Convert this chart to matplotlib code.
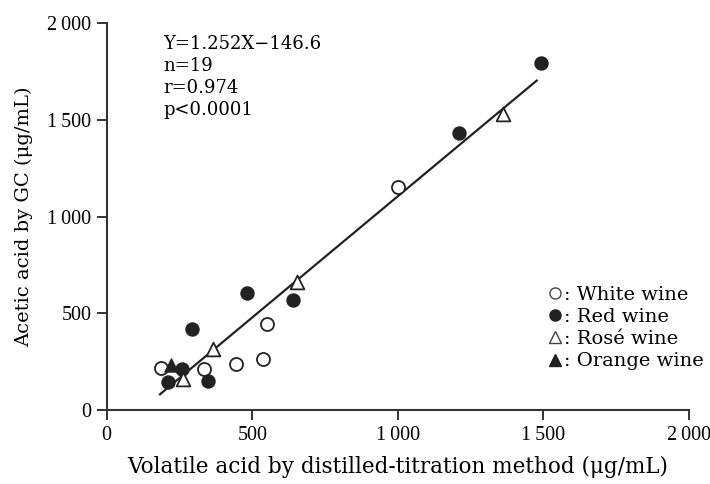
import matplotlib.pyplot as plt
from matplotlib.lines import Line2D

plt.rcParams['font.family'] = ['DejaVu Serif']

# values (ug/mL)
white_x = [186, 335, 443, 538, 551, 999]
white_y = [220, 212, 237, 265, 444, 1151]
red_x = [209, 260, 294, 347, 481, 641, 1210, 1491]
red_y = [148, 212, 420, 151, 604, 569, 1430, 1791]
rose_x = [263, 366, 652, 1362]
rose_y = [160, 318, 662, 1531]
orange_x = [221]
orange_y = [233]

slope = 1.252
intercept = -146.6
fit_x = [183, 1477]
fit_y = [slope * v + intercept for v in fit_x]

ticks = [0, 500, 1000, 1500, 2000]
tick_labels = ["0", "500", "1\u2009000", "1\u2009500", "2\u2009000"]
stats_text = "Y=1.252X\u2212146.6\nn=19\nr=0.974\np<0.0001"

fig = plt.figure(figsize=(7.1, 4.84), dpi=100)
ax = fig.add_axes([0.1503, 0.1523, 0.8201, 0.8002])

ax.plot(fit_x, fit_y, color="#222222", lw=1.6, zorder=1)

ms = 88
ax.scatter(white_x, white_y, s=ms, marker="o", facecolor="white", edgecolor="#222222", lw=1.3, zorder=3)
ax.scatter(red_x, red_y, s=ms, marker="o", facecolor="#222222", edgecolor="#222222", lw=1.0, zorder=3)
ax.scatter(rose_x, rose_y, s=ms + 10, marker="^", facecolor="white", edgecolor="#222222", lw=1.3, zorder=3)
ax.scatter(orange_x, orange_y, s=ms, marker="^", facecolor="#222222", edgecolor="#222222", lw=1.0, zorder=3)

ax.set_xlim(0, 2000)
ax.set_ylim(0, 2000)
ax.set_xticks(ticks, tick_labels)
ax.set_yticks(ticks, tick_labels)

for side in ["top", "right"]:
    ax.spines[side].set_visible(False)
for side in ["left", "bottom"]:
    ax.spines[side].set_color("#333333")
    ax.spines[side].set_linewidth(1.5)
ax.tick_params(direction="out", length=7, width=1.4, color="#333333", pad=4,
               labelsize=14.5, labelfontfamily="Liberation Serif")

ax.set_xlabel("Volatile acid by distilled-titration method (\u03bcg/mL)", fontsize=15.5, labelpad=8)
ax.set_ylabel("Acetic acid by GC (\u03bcg/mL)", fontsize=14, labelpad=10)

ax.text(0.097, 0.97, stats_text, transform=ax.transAxes, ha="left", va="top",
        fontsize=13, linespacing=1.3)

handles = [
    Line2D([], [], ls="none", marker="o", ms=8, mfc="white", mec="#444444", mew=1.0),
    Line2D([], [], ls="none", marker="o", ms=8, mfc="#222222", mec="#222222"),
    Line2D([], [], ls="none", marker="^", ms=8, mfc="white", mec="#444444", mew=1.0),
    Line2D([], [], ls="none", marker="^", ms=8, mfc="#222222", mec="#222222"),
]
labels = [": White wine", ": Red wine", ": Ros\u00e9 wine", ": Orange wine"]
ax.legend(handles, labels, loc="upper left", bbox_to_anchor=(0.757, 0.322), frameon=False,
          fontsize=14, handlelength=0.8, handletextpad=0.05, labelspacing=0.22,
          borderaxespad=0, borderpad=0)

plt.savefig("out.png", dpi=100)
plt.close()
